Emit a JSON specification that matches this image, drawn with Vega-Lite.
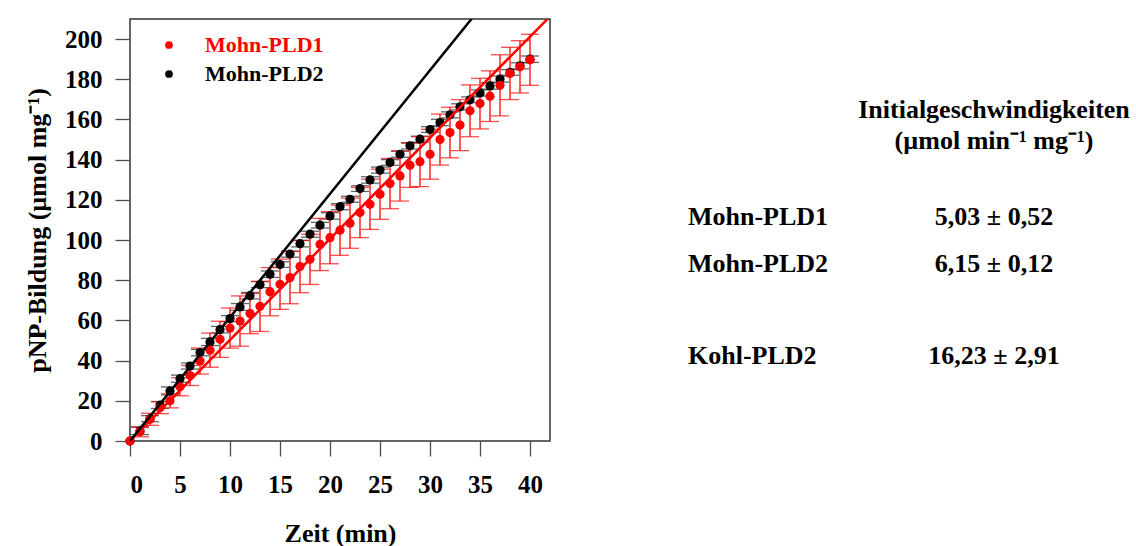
{
  "$schema": "https://vega.github.io/schema/vega-lite/v6.json",
  "background": "white",
  "padding": {"left": 23, "top": 18, "right": 0, "bottom": 0},
  "config": {
    "font": "Liberation Serif",
    "axis": {
      "labelFont": "Liberation Serif", "labelFontWeight": "bold", "labelFontSize": 25, "labelColor": "black",
      "titleFont": "Liberation Serif", "titleFontWeight": "bold", "titleFontSize": 26, "titleColor": "black",
      "grid": false, "domain": false, "tickColor": "#4d4d4d", "tickSize": 15, "tickWidth": 1.3
    },
    "text": {"font": "Liberation Serif", "fontWeight": "bold", "fontSize": 26, "color": "black"}
  },
  "datasets": {
    "messwerte": [
      {"serie": "Mohn-PLD2", "t": 0, "v": 0, "sd": 0},
      {"serie": "Mohn-PLD2", "t": 1, "v": 5.0, "sd": 1.8},
      {"serie": "Mohn-PLD2", "t": 2, "v": 11.1, "sd": 1.5},
      {"serie": "Mohn-PLD2", "t": 3, "v": 17.9, "sd": 1.7},
      {"serie": "Mohn-PLD2", "t": 4, "v": 24.9, "sd": 2.0},
      {"serie": "Mohn-PLD2", "t": 5, "v": 31.0, "sd": 1.8},
      {"serie": "Mohn-PLD2", "t": 6, "v": 37.3, "sd": 1.5},
      {"serie": "Mohn-PLD2", "t": 7, "v": 44.0, "sd": 1.6},
      {"serie": "Mohn-PLD2", "t": 8, "v": 49.3, "sd": 1.8},
      {"serie": "Mohn-PLD2", "t": 9, "v": 55.4, "sd": 1.6},
      {"serie": "Mohn-PLD2", "t": 10, "v": 60.9, "sd": 1.5},
      {"serie": "Mohn-PLD2", "t": 11, "v": 66.7, "sd": 1.7},
      {"serie": "Mohn-PLD2", "t": 12, "v": 72.3, "sd": 1.6},
      {"serie": "Mohn-PLD2", "t": 13, "v": 77.8, "sd": 1.5},
      {"serie": "Mohn-PLD2", "t": 14, "v": 83.0, "sd": 1.6},
      {"serie": "Mohn-PLD2", "t": 15, "v": 87.8, "sd": 1.4},
      {"serie": "Mohn-PLD2", "t": 16, "v": 93.0, "sd": 1.5},
      {"serie": "Mohn-PLD2", "t": 17, "v": 98.2, "sd": 1.6},
      {"serie": "Mohn-PLD2", "t": 18, "v": 102.9, "sd": 1.5},
      {"serie": "Mohn-PLD2", "t": 19, "v": 107.4, "sd": 1.4},
      {"serie": "Mohn-PLD2", "t": 20, "v": 112.0, "sd": 1.6},
      {"serie": "Mohn-PLD2", "t": 21, "v": 116.6, "sd": 1.5},
      {"serie": "Mohn-PLD2", "t": 22, "v": 120.3, "sd": 1.5},
      {"serie": "Mohn-PLD2", "t": 23, "v": 125.6, "sd": 1.4},
      {"serie": "Mohn-PLD2", "t": 24, "v": 129.9, "sd": 1.6},
      {"serie": "Mohn-PLD2", "t": 25, "v": 134.8, "sd": 1.5},
      {"serie": "Mohn-PLD2", "t": 26, "v": 138.6, "sd": 1.4},
      {"serie": "Mohn-PLD2", "t": 27, "v": 142.7, "sd": 1.5},
      {"serie": "Mohn-PLD2", "t": 28, "v": 146.9, "sd": 1.6},
      {"serie": "Mohn-PLD2", "t": 29, "v": 150.2, "sd": 1.5},
      {"serie": "Mohn-PLD2", "t": 30, "v": 155.0, "sd": 1.4},
      {"serie": "Mohn-PLD2", "t": 31, "v": 158.5, "sd": 1.6},
      {"serie": "Mohn-PLD2", "t": 32, "v": 162.3, "sd": 1.5},
      {"serie": "Mohn-PLD2", "t": 33, "v": 166.3, "sd": 1.5},
      {"serie": "Mohn-PLD2", "t": 34, "v": 169.8, "sd": 1.4},
      {"serie": "Mohn-PLD2", "t": 35, "v": 173.2, "sd": 1.5},
      {"serie": "Mohn-PLD2", "t": 36, "v": 176.7, "sd": 1.6},
      {"serie": "Mohn-PLD2", "t": 37, "v": 180.1, "sd": 1.5},
      {"serie": "Mohn-PLD2", "t": 38, "v": 183.4, "sd": 1.4},
      {"serie": "Mohn-PLD2", "t": 39, "v": 186.7, "sd": 1.5},
      {"serie": "Mohn-PLD2", "t": 40, "v": 190.0, "sd": 1.6},
      {"serie": "Mohn-PLD1", "t": 0, "v": 0, "sd": 0},
      {"serie": "Mohn-PLD1", "t": 1, "v": 4.6, "sd": 2.5},
      {"serie": "Mohn-PLD1", "t": 2, "v": 10.8, "sd": 3.0},
      {"serie": "Mohn-PLD1", "t": 3, "v": 16.6, "sd": 3.0},
      {"serie": "Mohn-PLD1", "t": 4, "v": 20.0, "sd": 3.5},
      {"serie": "Mohn-PLD1", "t": 5, "v": 27.0, "sd": 4.5},
      {"serie": "Mohn-PLD1", "t": 6, "v": 32.6, "sd": 5.0},
      {"serie": "Mohn-PLD1", "t": 7, "v": 39.8, "sd": 6.5},
      {"serie": "Mohn-PLD1", "t": 8, "v": 45.2, "sd": 8.5},
      {"serie": "Mohn-PLD1", "t": 9, "v": 50.6, "sd": 9.0},
      {"serie": "Mohn-PLD1", "t": 10, "v": 56.2, "sd": 10.0},
      {"serie": "Mohn-PLD1", "t": 11, "v": 59.7, "sd": 12.5},
      {"serie": "Mohn-PLD1", "t": 12, "v": 63.4, "sd": 10.0},
      {"serie": "Mohn-PLD1", "t": 13, "v": 67.0, "sd": 12.5},
      {"serie": "Mohn-PLD1", "t": 14, "v": 74.3, "sd": 12.0},
      {"serie": "Mohn-PLD1", "t": 15, "v": 78.0, "sd": 12.5},
      {"serie": "Mohn-PLD1", "t": 16, "v": 81.3, "sd": 13.0},
      {"serie": "Mohn-PLD1", "t": 17, "v": 86.8, "sd": 13.0},
      {"serie": "Mohn-PLD1", "t": 18, "v": 90.4, "sd": 12.5},
      {"serie": "Mohn-PLD1", "t": 19, "v": 97.8, "sd": 13.0},
      {"serie": "Mohn-PLD1", "t": 20, "v": 101.2, "sd": 13.0},
      {"serie": "Mohn-PLD1", "t": 21, "v": 104.9, "sd": 12.5},
      {"serie": "Mohn-PLD1", "t": 22, "v": 108.4, "sd": 12.5},
      {"serie": "Mohn-PLD1", "t": 23, "v": 113.7, "sd": 12.5},
      {"serie": "Mohn-PLD1", "t": 24, "v": 117.8, "sd": 12.5},
      {"serie": "Mohn-PLD1", "t": 25, "v": 122.8, "sd": 12.5},
      {"serie": "Mohn-PLD1", "t": 26, "v": 128.1, "sd": 12.5},
      {"serie": "Mohn-PLD1", "t": 27, "v": 131.9, "sd": 12.5},
      {"serie": "Mohn-PLD1", "t": 28, "v": 137.2, "sd": 11.0},
      {"serie": "Mohn-PLD1", "t": 29, "v": 139.0, "sd": 12.4},
      {"serie": "Mohn-PLD1", "t": 30, "v": 142.7, "sd": 12.4},
      {"serie": "Mohn-PLD1", "t": 31, "v": 150.0, "sd": 12.7},
      {"serie": "Mohn-PLD1", "t": 32, "v": 153.5, "sd": 12.6},
      {"serie": "Mohn-PLD1", "t": 33, "v": 157.2, "sd": 12.7},
      {"serie": "Mohn-PLD1", "t": 34, "v": 164.3, "sd": 12.9},
      {"serie": "Mohn-PLD1", "t": 35, "v": 167.9, "sd": 12.6},
      {"serie": "Mohn-PLD1", "t": 36, "v": 171.6, "sd": 12.6},
      {"serie": "Mohn-PLD1", "t": 37, "v": 177.0, "sd": 15.2},
      {"serie": "Mohn-PLD1", "t": 38, "v": 182.9, "sd": 13.0},
      {"serie": "Mohn-PLD1", "t": 39, "v": 186.2, "sd": 13.0},
      {"serie": "Mohn-PLD1", "t": 40, "v": 189.7, "sd": 12.7}
    ],
    "geraden": [
      {"serie": "Mohn-PLD1", "steigung": 5.03, "t": 0, "v": 0},
      {"serie": "Mohn-PLD1", "steigung": 5.03, "t": 42, "v": 211.26},
      {"serie": "Mohn-PLD2", "steigung": 6.15, "t": 0, "v": 0},
      {"serie": "Mohn-PLD2", "steigung": 6.15, "t": 42, "v": 258.3}
    ],
    "tabelle": [
      {"zeile": 0, "spalte": "Wert", "text": "Initialgeschwindigkeiten"},
      {"zeile": 2, "spalte": "Wert", "text": "(µmol min⁻¹ mg⁻¹)"},
      {"zeile": 7, "spalte": "Enzym", "text": "Mohn-PLD1"},
      {"zeile": 7, "spalte": "Wert", "text": "5,03 ± 0,52"},
      {"zeile": 10, "spalte": "Enzym", "text": "Mohn-PLD2"},
      {"zeile": 10, "spalte": "Wert", "text": "6,15 ± 0,12"},
      {"zeile": 16, "spalte": "Enzym", "text": "Kohl-PLD2"},
      {"zeile": 16, "spalte": "Wert", "text": "16,23 ± 2,91"}
    ]
  },
  "spacing": 137,
  "hconcat": [
    {
      "width": 420,
      "height": 422,
      "view": {"stroke": "#333333", "strokeWidth": 1.5},
      "encoding": {
        "x": {
          "field": "t", "type": "quantitative",
          "scale": {"domain": [0, 42], "nice": false, "zero": false},
          "axis": {"values": [0, 5, 10, 15, 20, 25, 30, 35, 40], "title": "Zeit (min)", "labelPadding": 16, "titlePadding": 23}
        },
        "y": {
          "field": "v", "type": "quantitative",
          "scale": {"domain": [0, 210], "nice": false, "zero": false},
          "axis": {"values": [0, 20, 40, 60, 80, 100, 120, 140, 160, 180, 200], "title": "pNP-Bildung (µmol mg⁻¹)", "labelPadding": 13, "titlePadding": 14}
        }
      },
      "layer": [
        {
          "data": {"name": "messwerte"},
          "transform": [{"filter": "datum.sd > 0"}],
          "mark": {"type": "errorbar", "ticks": {"size": 18, "thickness": 1.3}, "rule": {"strokeWidth": 1.3}},
          "encoding": {
            "yError": {"field": "sd"},
            "color": {"field": "serie", "type": "nominal", "scale": {"domain": ["Mohn-PLD1", "Mohn-PLD2"], "range": ["#ff0000", "#222222"]}, "legend": null}
          }
        },
        {
          "data": {"name": "messwerte"},
          "mark": {"type": "point", "filled": true, "size": 85, "opacity": 1},
          "encoding": {
            "color": {
              "field": "serie", "type": "nominal",
              "scale": {"domain": ["Mohn-PLD1", "Mohn-PLD2"], "range": ["#ff0000", "#000000"]},
              "legend": {
                "title": null, "orient": "none", "legendX": 28, "legendY": 15,
                "labelFont": "Liberation Serif", "labelFontWeight": "bold", "labelFontSize": 22,
                "labelColor": {"expr": "datum.value === 'Mohn-PLD1' ? '#ff0000' : '#000000'"},
                "symbolType": "circle", "symbolSize": 60, "symbolStrokeWidth": 0,
                "labelOffset": 25, "rowPadding": 7, "padding": 0
              }
            }
          }
        },
        {
          "data": {"name": "geraden"},
          "mark": {"type": "line", "clip": true, "strokeWidth": 2.5},
          "encoding": {
            "color": {"field": "serie", "type": "nominal", "scale": {"domain": ["Mohn-PLD1", "Mohn-PLD2"], "range": ["#ff0000", "#000000"]}, "legend": null}
          }
        }
      ],
      "resolve": {"scale": {"color": "independent"}, "legend": {"color": "independent"}}
    },
    {
      "width": 306,
      "height": 422,
      "view": {"stroke": null},
      "data": {"name": "tabelle"},
      "encoding": {
        "x": {"field": "spalte", "type": "nominal", "scale": {"type": "point", "domain": ["Enzym", "Wert"], "padding": 0}, "axis": null},
        "y": {"field": "zeile", "type": "quantitative", "scale": {"domain": [-6.45, 21.04], "reverse": true, "nice": false, "zero": false}, "axis": null},
        "text": {"field": "text", "type": "nominal"}
      },
      "layer": [
        {"transform": [{"filter": "datum.spalte === 'Enzym'"}], "mark": {"type": "text", "align": "left", "baseline": "alphabetic"}},
        {"transform": [{"filter": "datum.spalte === 'Wert'"}], "mark": {"type": "text", "align": "center", "baseline": "alphabetic"}}
      ]
    }
  ]
}
